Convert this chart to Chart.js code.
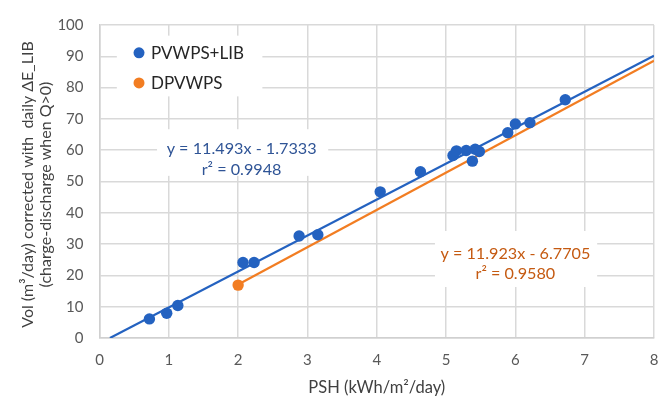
<!DOCTYPE html>
<html>
<head>
<meta charset="utf-8">
<script src="https://cdn.jsdelivr.net/npm/chart.js@4/dist/chart.umd.min.js"></script>
<style>
  html, body { margin: 0; padding: 0; background: #fff; }
  #wrap { width: 672px; height: 396px; }
</style>
</head>
<body>
<div id="wrap"><canvas id="c" width="672" height="396"></canvas></div>
<script>
// ---- data ----
const pshLib = [0.72, 0.97, 1.13, 2.07, 2.23, 2.88, 3.15, 4.05, 4.63, 5.10, 5.15, 5.29, 5.38, 5.42, 5.48, 5.89, 6.00, 6.21, 6.72];
const volLib = [6.1, 7.9, 10.4, 24.1, 24.1, 32.6, 33.0, 46.7, 53.1, 58.3, 59.8, 59.9, 56.5, 60.3, 59.6, 65.6, 68.4, 68.8, 76.1];
const pshD = [2.0];
const volD = [16.9];
// trendlines (from the equations printed on the chart)
const libSlope = 11.493, libIntercept = -1.7333, libRange = [0.151, 8];
const dSlope = 11.923, dIntercept = -6.7705, dRange = [2.0, 8];
const seriesNames = ['PVWPS+LIB', 'DPVWPS'];
const libEq = ['y = 11.493x - 1.7333', 'r\u00B2 = 0.9948'];
const dEq = ['y = 11.923x - 6.7705', 'r\u00B2 = 0.9580'];
const xTicks = [0, 1, 2, 3, 4, 5, 6, 7, 8];
const yTicks = [0, 10, 20, 30, 40, 50, 60, 70, 80, 90, 100];
const xTitle = 'PSH (kWh/m\u00B2/day)';
const yTitle = ['Vol (m\u00B3/day) corrected with  daily \u0394E_LIB', '(charge-discharge when Q>0)'];

const BLUE = '#2462C0';
const ORANGE = '#F27D22';
const FONT = 'Lato, "Open Sans", sans-serif';

const pts = (xs, ys) => xs.map((x, i) => ({ x: x, y: ys[i] }));
const trend = (m, b, r) => r.map(x => ({ x: x, y: m * x + b }));

const overlay = {
  id: 'overlay',
  beforeDatasetsDraw(chart) {
    const ctx = chart.ctx;
    const xs = chart.scales.x, ys = chart.scales.y;
    ctx.save();
    ctx.fillStyle = '#ffffff';
    const box = (x0, y0, x1, y1) => {
      const a = xs.getPixelForValue(x0), b = ys.getPixelForValue(y0);
      const c = xs.getPixelForValue(x1), d = ys.getPixelForValue(y1);
      ctx.fillRect(a, b, c - a, d - b);
    };
    box(0.25, 96.6, 2.35, 77.2);   // legend
    box(0.83, 66.7, 3.3, 51.8);    // blue equation
    box(4.84, 34.2, 7.18, 16.3);   // orange equation
    ctx.restore();
  },
  afterDatasetsDraw(chart) {
    const ctx = chart.ctx;
    const xs = chart.scales.x, ys = chart.scales.y;
    ctx.save();
    // legend
    const lx = xs.getPixelForValue(0.57);
    const legendY = [ys.getPixelForValue(91.1), ys.getPixelForValue(81.5)];
    const cols = [BLUE, ORANGE];
    ctx.font = '17px ' + FONT;
    ctx.textBaseline = 'middle';
    ctx.textAlign = 'left';
    for (let i = 0; i < 2; i++) {
      ctx.beginPath();
      ctx.arc(lx, legendY[i], 5.5, 0, Math.PI * 2);
      ctx.fillStyle = cols[i];
      ctx.fill();
      ctx.fillStyle = '#262626';
      ctx.fillText(seriesNames[i], lx + 12, legendY[i] + 1);
    }
    // equations
    ctx.font = '16.2px ' + FONT;
    ctx.textAlign = 'center';
    ctx.fillStyle = '#2F5496';
    let cx = xs.getPixelForValue(2.05);
    ctx.fillText(libEq[0], cx, ys.getPixelForValue(60.4));
    ctx.fillText(libEq[1], cx, ys.getPixelForValue(53.8));
    ctx.fillStyle = '#C55A11';
    cx = xs.getPixelForValue(6.0);
    ctx.fillText(dEq[0], cx, ys.getPixelForValue(27.0));
    ctx.fillText(dEq[1], cx, ys.getPixelForValue(20.4));
    ctx.restore();
  },
  afterDraw(chart) {
    // y-axis title, two lines, rotated
    const ctx = chart.ctx;
    const ca = chart.chartArea;
    ctx.save();
    ctx.font = '16px ' + FONT;
    ctx.fillStyle = '#404040';
    ctx.textAlign = 'center';
    ctx.textBaseline = 'middle';
    const cy = (ca.top + ca.bottom) / 2 + 3;
    const xsPos = [ca.left - 72, ca.left - 54];
    for (let i = 0; i < yTitle.length; i++) {
      ctx.save();
      ctx.translate(xsPos[i], cy);
      ctx.rotate(-Math.PI / 2);
      ctx.fillText(yTitle[i], 0, 0);
      ctx.restore();
    }
    ctx.restore();
  }
};

new Chart(document.getElementById('c'), {
  type: 'scatter',
  data: {
    datasets: [
      { label: seriesNames[0], data: pts(pshLib, volLib), backgroundColor: BLUE, borderColor: BLUE,
        pointRadius: 5.7, pointHoverRadius: 5.7, borderWidth: 0, order: 0 },
      { label: seriesNames[1], data: pts(pshD, volD), backgroundColor: ORANGE, borderColor: ORANGE,
        pointRadius: 5.7, pointHoverRadius: 5.7, borderWidth: 0, order: 0 },
      { type: 'line', label: 'trend LIB', data: trend(libSlope, libIntercept, libRange),
        borderColor: BLUE, borderWidth: 2.2, pointRadius: 0, fill: false, order: 1 },
      { type: 'line', label: 'trend D', data: trend(dSlope, dIntercept, dRange),
        borderColor: ORANGE, borderWidth: 2.2, pointRadius: 0, fill: false, order: 1 }
    ]
  },
  options: {
    responsive: false,
    animation: false,
    devicePixelRatio: 1,
    layout: { padding: { left: 0, right: 18, top: 14, bottom: 0 } },
    plugins: { legend: { display: false }, tooltip: { enabled: false } },
    scales: {
      x: {
        type: 'linear', min: 0, max: 8,
        afterBuildTicks: s => { s.ticks = xTicks.map(v => ({ value: v })); },
        afterFit: s => { s.height = 58; },
        grid: { color: '#d9d9d9', lineWidth: 1.5, drawTicks: false },
        border: { color: '#d0d0d0', width: 1.5 },
        ticks: { color: '#595959', font: { family: FONT, size: 15 }, padding: 13 },
        title: { display: true, text: xTitle, color: '#404040',
                 font: { family: FONT, size: 16.5, lineHeight: 1.0 }, padding: { top: 0, bottom: 0 } }
      },
      y: {
        type: 'linear', min: 0, max: 100,
        afterBuildTicks: s => { s.ticks = yTicks.map(v => ({ value: v })); },
        afterFit: s => { s.width = 99.5; },
        grid: { color: '#d9d9d9', lineWidth: 1.5, drawTicks: false },
        border: { color: '#d0d0d0', width: 1.5 },
        ticks: { color: '#595959', font: { family: FONT, size: 15 }, padding: 16 },
        title: { display: false }
      }
    }
  },
  plugins: [overlay]
});
</script>
</body>
</html>
